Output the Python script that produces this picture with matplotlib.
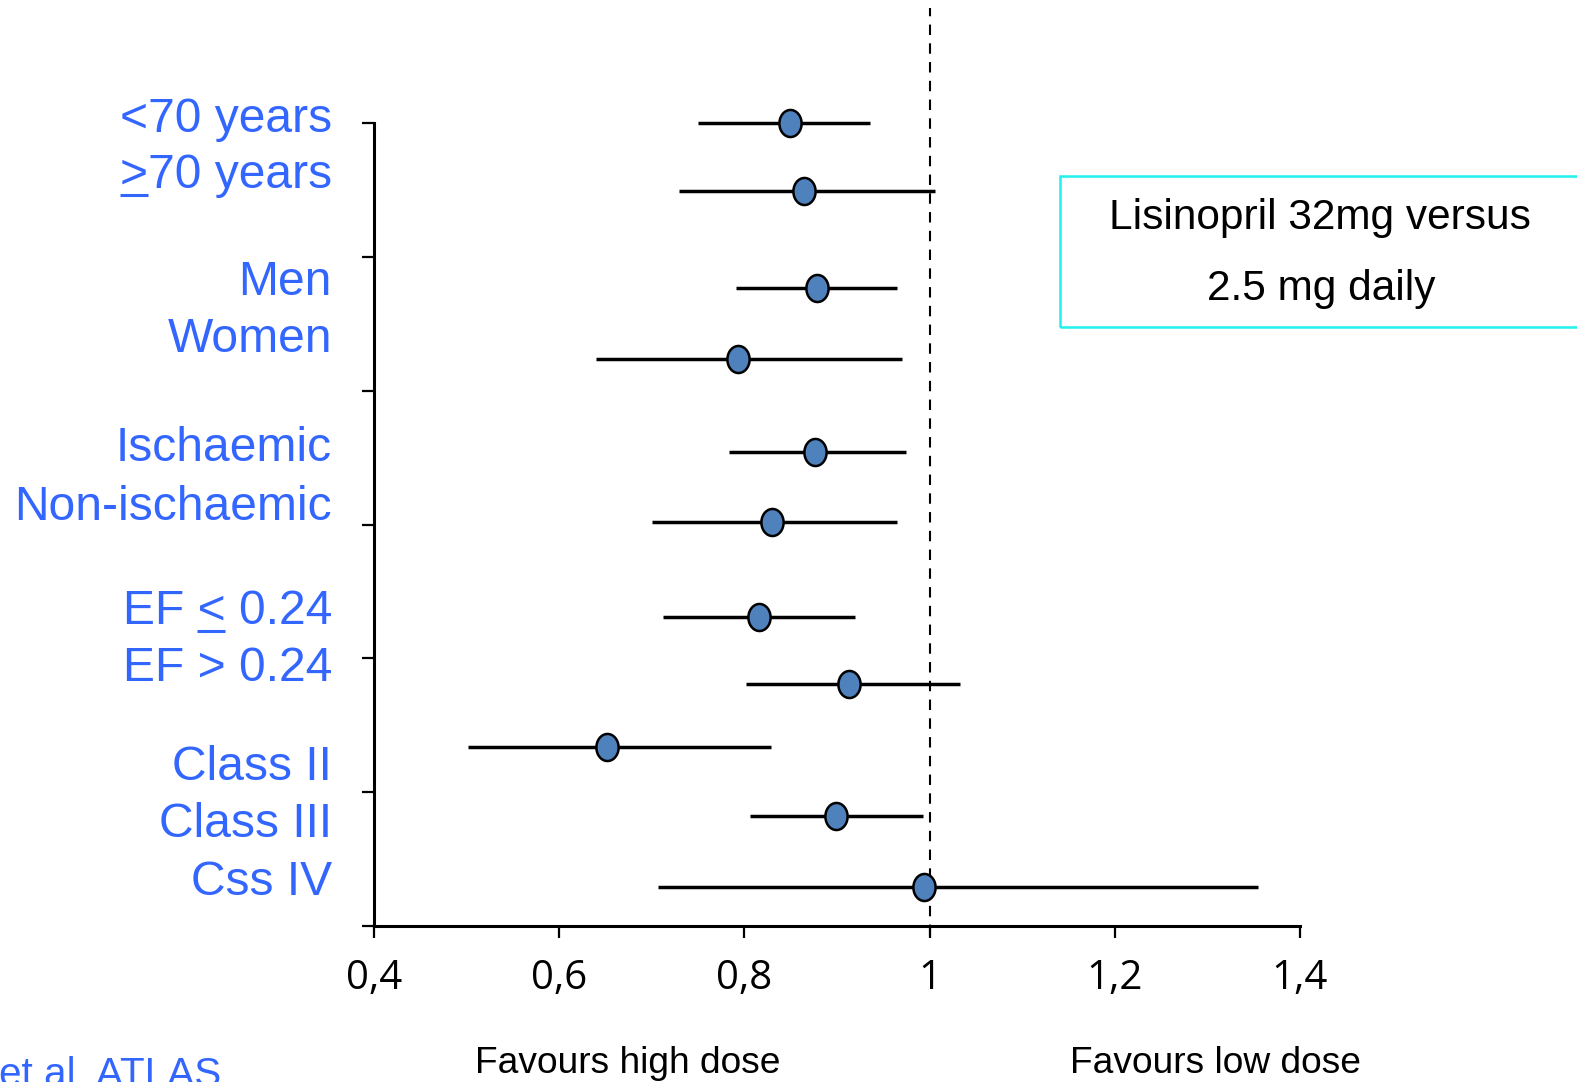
import numpy as np
import matplotlib
matplotlib.use("Agg")
import matplotlib.pyplot as plt
from matplotlib.path import Path
from matplotlib.patches import Rectangle
from matplotlib.lines import Line2D
from matplotlib.transforms import blended_transform_factory

# subgroup hazard ratios with 95% CI
labels = ['<70 years', '>70 years', 'Men', 'Women', 'Ischaemic', 'Non-ischaemic',
          'EF < 0.24', 'EF > 0.24', 'Class II', 'Class III', 'Css IV']
est = [0.849, 0.864, 0.878, 0.793, 0.876, 0.830, 0.816, 0.913, 0.652, 0.899, 0.994]
lo = [0.750, 0.729, 0.791, 0.640, 0.783, 0.700, 0.712, 0.802, 0.502, 0.806, 0.707]
hi = [0.936, 1.006, 0.965, 0.970, 0.975, 0.965, 0.919, 1.033, 0.829, 0.993, 1.355]
xticks = [0.4, 0.6, 0.8, 1.0, 1.2, 1.4]
xticklabels = ['0,4', '0,6', '0,8', '1', '1,2', '1,4']

# vertical placement of the rows and of their labels (axis runs 0..6)
row_y = [6.0, 5.49, 4.77, 4.24, 3.54, 3.02, 2.31, 1.81, 1.34, 0.82, 0.29]
label_y = [5.936, 5.516, 4.716, 4.290, 3.471, 3.034, 2.257, 1.831, 1.091, 0.665, 0.232]
underlined = {1: '>', 6: '<'}   # label index -> char drawn with an underline

W, H = 1577, 1082
fig = plt.figure(figsize=(W / 100, H / 100), dpi=100)
ax = fig.add_axes([374 / W, 156 / H, 926 / W, 803 / H])

blue = '#3366FF'
mfill = '#4F81BD'

# slightly tall ellipse marker
t = np.linspace(0, 2 * np.pi, 60)
ell = Path(np.column_stack([0.82 * np.cos(t), np.sin(t)]), closed=True)

ax.hlines(row_y, lo, hi, color='black', lw=2.5, zorder=2, clip_on=False)
ax.plot(est, row_y, linestyle='none', marker=ell, markersize=19.5,
        markerfacecolor=mfill, markeredgecolor='black', markeredgewidth=1.8,
        zorder=3, clip_on=False)

# line of no effect
ax.plot([1.0, 1.0], [-0.07, 6.86], color='black', lw=1.5, dashes=(5, 4),
        zorder=1, clip_on=False)

ax.set_xlim(0.4, 1.4)
ax.set_ylim(0, 6)
ax.set_xticks(xticks)
ax.set_xticklabels(xticklabels, fontfamily='Open Sans', fontsize=29)
ax.set_yticks(range(7))
ax.set_yticklabels([])
ax.tick_params(axis='both', direction='out', length=8.6, width=1.6, color='black')
ax.tick_params(axis='x', pad=15)
for s in ['top', 'right']:
    ax.spines[s].set_visible(False)
for s in ['left', 'bottom']:
    ax.spines[s].set_linewidth(2.2)

# subgroup labels
tr = blended_transform_factory(fig.transFigure, ax.transData)
texts = []
for i, lab in enumerate(labels):
    txt = ax.text(332 / W, label_y[i], lab, transform=tr, ha='right', va='baseline',
                  fontfamily='Liberation Sans', fontsize=34.6, color=blue)
    texts.append(txt)

# treatment box
fig.patches.append(Rectangle((1059.5 / W, 1 - 327 / H), 0.4, 151 / H,
                             transform=fig.transFigure, fill=False,
                             edgecolor='#1FF0F0', lw=1.8))
fig.text(1320 / W, 1 - 228.5 / H, 'Lisinopril 32mg versus', ha='center', va='baseline',
         fontfamily='Liberation Sans', fontsize=30.5)
fig.text(1321 / W, 1 - 300 / H, '2.5 mg daily', ha='center', va='baseline',
         fontfamily='Liberation Sans', fontsize=30.5)

fig.text(628 / W, 1 - 1073 / H, 'Favours high dose', ha='center', va='baseline',
         fontfamily='Liberation Sans', fontsize=26.7)
fig.text(1216 / W, 1 - 1073 / H, 'Favours low dose', ha='center', va='baseline',
         fontfamily='Liberation Sans', fontsize=26.7)
fig.text(221 / W, 1 - 1086 / H, 'et al. ATLAS', ha='right', va='baseline',
         fontfamily='Liberation Sans', fontsize=29.2, color=blue)

# underline the comparison signs (>= and <=)
fig.canvas.draw()
rend = fig.canvas.get_renderer()


def ink_width(s):
    tmp = fig.text(0, 0, s, fontfamily='Liberation Sans', fontsize=34.6)
    w = tmp.get_window_extent(rend).width
    tmp.remove()
    return w


for i, ch in underlined.items():
    txt = texts[i]
    bb = txt.get_window_extent(rend)
    head = labels[i][:labels[i].index(ch) + 1]
    x1 = bb.x0 + ink_width(head)
    x0 = x1 - ink_width(ch)
    yb = txt.get_transform().transform((332 / W, label_y[i]))[1] - 7
    fig.add_artist(Line2D([x0 / W, x1 / W], [yb / H, yb / H], transform=fig.transFigure,
                          color=blue, lw=2.2, solid_capstyle='butt'))

fig.savefig('out.png', dpi=100)
